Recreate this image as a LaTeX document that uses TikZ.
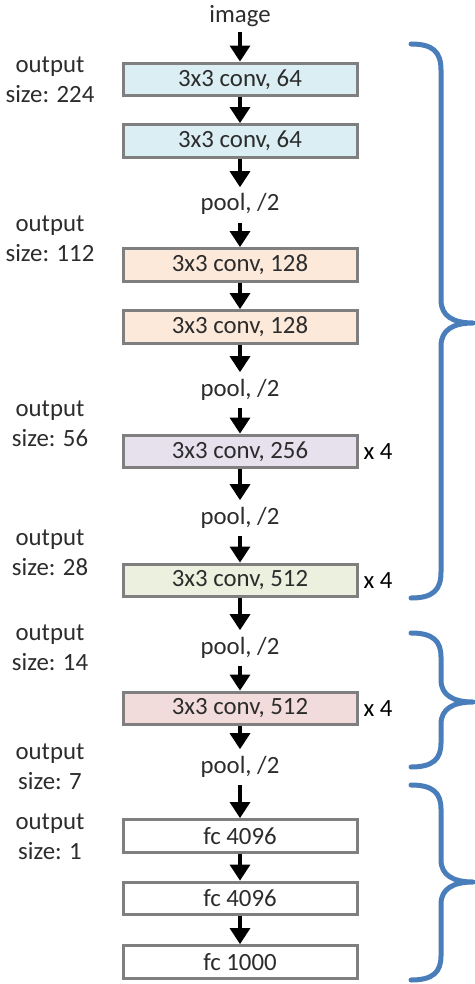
\documentclass[tikz,border=0pt]{standalone}
\usepackage{fontspec}
\setmainfont{Carlito}
\usetikzlibrary{arrows.meta}
\definecolor{convblue}{HTML}{DAEEF3}
\definecolor{convpeach}{HTML}{FCE9DA}
\definecolor{convlilac}{HTML}{E6E1ED}
\definecolor{convgreen}{HTML}{EBF1DE}
\definecolor{convpink}{HTML}{F2DCDB}
\definecolor{bracecol}{HTML}{4A7EBB}
\definecolor{txtgray}{HTML}{2C2C2C}
\definecolor{boxgray}{HTML}{7F7F7F}
\begin{document}
\begin{tikzpicture}[x=0.5pt, y=-0.5pt, font=\fontsize{12.4}{15.2}\selectfont, text=txtgray,
  layer/.style={draw=boxgray, line width=1.5pt, minimum width=117pt, minimum height=16.4pt, inner sep=0pt},
  times/.style={label={[label distance=-1pt, text=black]right:x 4}},
  outsize/.style={align=center},
  pool/.style={inner sep=3.2pt, text height=8.5pt, text depth=2.5pt},
  flow/.style={-{Triangle[width=10pt,length=8pt]}, line width=1.6pt, draw=black},
  brace/.style={draw=bracecol, line width=2.5pt, line cap=round, line join=round}]
\useasboundingbox (0,0) rectangle (475,984);
\node[inner sep=2pt, text height=8.5pt, text depth=2.5pt] (img) at (240,17) {image};
\node[layer, fill=convblue] (c1) at (240,79.5) {3x3 conv, 64};
\node[layer, fill=convblue] (c2) at (240,141) {3x3 conv, 64};
\node[pool] (p1) at (240,205) {pool, /2};
\node[layer, fill=convpeach] (c3) at (240,265) {3x3 conv, 128};
\node[layer, fill=convpeach] (c4) at (240,327) {3x3 conv, 128};
\node[pool] (p2) at (240,390) {pool, /2};
\node[layer, fill=convlilac, times] (c5) at (240,451.5) {3x3 conv, 256};
\node[pool] (p3) at (240,518) {pool, /2};
\node[layer, fill=convgreen, times] (c6) at (240,580.5) {3x3 conv, 512};
\node[pool] (p4) at (240,648) {pool, /2};
\node[layer, fill=convpink, times] (c7) at (240,708.5) {3x3 conv, 512};
\node[pool] (p5) at (240,767) {pool, /2};
\node[layer, fill=white] (fc1) at (240,836) {fc 4096};
\node[layer, fill=white] (fc2) at (240,898.5) {fc 4096};
\node[layer, fill=white] (fc3) at (240,962) {fc 1000};
% output sizes
\node[outsize] (s224) at (50,80) {output\\size: 224};
\node[outsize] (s112) at (50,239) {output\\size: 112};
\node[outsize] (s56) at (50,424) {output\\size: 56};
\node[outsize] (s28) at (50,553) {output\\size: 28};
\node[outsize] (s14) at (50,648) {output\\size: 14};
\node[outsize] (s7) at (50,767) {output\\size: 7};
\node[outsize] (s1) at (50,837) {output\\size: 1};
% arrows
\path [flow] (img) edge (c1);
\path [flow] (c1) edge (c2);
\path [flow] (c2) edge (p1);
\path [flow] (p1) edge (c3);
\path [flow] (c3) edge (c4);
\path [flow] (c4) edge (p2);
\path [flow] (p2) edge (c5);
\path [flow] (c5) edge (p3);
\path [flow] (p3) edge (c6);
\path [flow] (c6) edge (p4);
\path [flow] (p4) edge (c7);
\path [flow] (c7) edge (p5);
\path [flow] (p5) edge (fc1);
\path [flow] (fc1) edge (fc2);
\path [flow] (fc2) edge (fc3);
% braces
\draw[brace] (411,44) .. controls (433,44) and (441,52) .. (441,70) -- (441,300)
  .. controls (441,316) and (453,323) .. (473,323)
  .. controls (453,323) and (441,330) .. (441,346) -- (441,572)
  .. controls (441,590) and (433,598) .. (411,598);
\draw[brace] (411,633) .. controls (433,633) and (441,641) .. (441,657) -- (441,680)
  .. controls (441,695) and (453,702) .. (473,702)
  .. controls (453,702) and (441,709) .. (441,724) -- (441,743)
  .. controls (441,759) and (433,767) .. (411,767);
\draw[brace] (411,785) .. controls (433,785) and (441,793) .. (441,809) -- (441,860)
  .. controls (441,875) and (453,882) .. (473,882)
  .. controls (453,882) and (441,889) .. (441,904) -- (441,956)
  .. controls (441,972) and (433,980) .. (411,980);
\end{tikzpicture}
\end{document}
